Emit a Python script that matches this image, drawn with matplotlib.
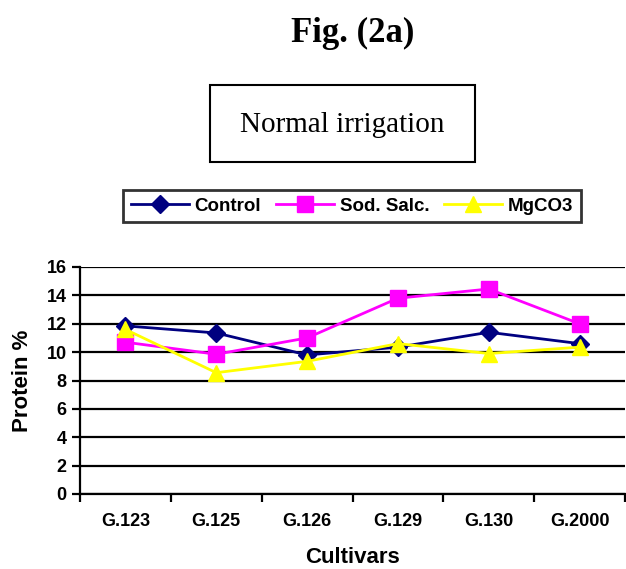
import matplotlib.pyplot as plt
from matplotlib.patches import Rectangle

cultivars = ["G.123", "G.125", "G.126", "G.129", "G.130", "G.2000"]
control = [11.85, 11.35, 9.8, 10.35, 11.4, 10.6]
sod_salc = [10.7, 9.85, 11.0, 13.8, 14.45, 12.0]
mgco3 = [11.6, 8.55, 9.35, 10.6, 9.9, 10.35]

W, H = 626, 569
fig = plt.figure(figsize=(W / 100, H / 100), dpi=100)
ax = fig.add_axes([80 / W, 1 - 494 / H, (625 - 80) / W, (494 - 267) / H])

x = list(range(len(cultivars)))
ax.plot(x, control, color="#000080", lw=2, marker="D", ms=9, label="Control", zorder=3)
ax.plot(x, sod_salc, color="#FF00FF", lw=2, marker="s", ms=12, label="Sod. Salc.", zorder=4)
ax.plot(x, mgco3, color="#FFFF00", lw=2, marker="^", ms=12, label="MgCO3", zorder=5)

ax.set_xlim(-0.5, len(cultivars) - 0.5)
ax.set_ylim(0, 16)
ax.set_yticks(range(0, 17, 2))
ax.yaxis.grid(True, color="black", lw=1.6)
ax.set_axisbelow(True)
ax.set_xticks([i - 0.5 for i in range(len(cultivars) + 1)])
ax.set_xticklabels([])
ax.set_xticks(x, minor=True)
ax.set_xticklabels(cultivars, minor=True)
ax.tick_params(axis="x", which="minor", length=0, pad=14)
ax.tick_params(axis="both", which="major", width=1.6, length=6, direction="out")
for lab in ax.get_xticklabels(minor=True) + ax.get_yticklabels():
    lab.set_fontfamily("Liberation Sans")
    lab.set_fontweight("bold")
    lab.set_fontsize(13)
for s in ["top", "right"]:
    ax.spines[s].set_visible(False)
for s in ["left", "bottom"]:
    ax.spines[s].set_linewidth(1.6)

ax.set_ylabel("Protein %", fontfamily="Liberation Sans", fontweight="bold", fontsize=16, labelpad=10)
ax.set_xlabel("Cultivars", fontfamily="Liberation Sans", fontweight="bold", fontsize=16, labelpad=12)

fig.text(353 / W, 1 - 42 / H, "Fig. (2a)", ha="center", va="baseline",
         fontfamily="Liberation Serif", fontweight="bold", fontsize=25)

fig.patches.append(Rectangle((210 / W, 1 - 162 / H), (475 - 210) / W, (162 - 85) / H,
                             transform=fig.transFigure, fill=False, edgecolor="black", lw=1.5))
fig.text(342.5 / W, 1 - 132 / H, "Normal irrigation", ha="center", va="baseline",
         fontfamily="Liberation Serif", fontsize=21)

leg = fig.legend(loc="center", bbox_to_anchor=(352 / W, 1 - 206 / H), ncol=3,
                 prop={"family": "Liberation Sans", "weight": "bold", "size": 13.5},
                 frameon=True, fancybox=False, edgecolor="black", handlelength=3.1,
                 columnspacing=0.8, handletextpad=0.3, borderpad=0.4)
leg.get_frame().set_linewidth(2)

fig.savefig("out.png", dpi=100)
